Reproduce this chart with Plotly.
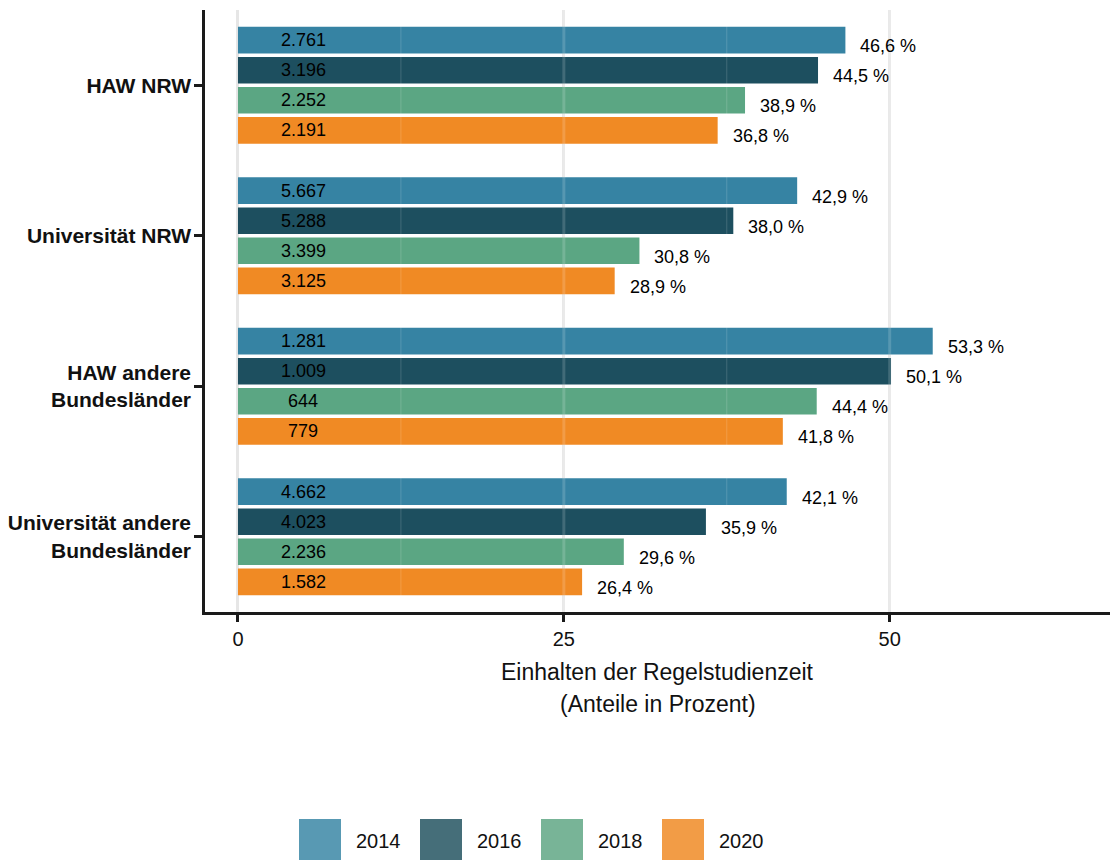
import plotly.graph_objects as go

# ---- data ----
categories = ["HAW NRW", "Universität NRW", "HAW andere<br>Bundesländer",
              "Universität andere<br>Bundesländer"]
years = ["2014", "2016", "2018", "2020"]
pct_2014 = [46.6, 42.9, 53.3, 42.1]
pct_2016 = [44.5, 38.0, 50.1, 35.9]
pct_2018 = [38.9, 30.8, 44.4, 29.6]
pct_2020 = [36.8, 28.9, 41.8, 26.4]
n_2014 = [2761, 5667, 1281, 4662]
n_2016 = [3196, 5288, 1009, 4023]
n_2018 = [2252, 3399, 644, 2236]
n_2020 = [2191, 3125, 779, 1582]
x_ticks = [0, 25, 50]

pcts = [pct_2014, pct_2016, pct_2018, pct_2020]
counts = [n_2014, n_2016, n_2018, n_2020]

# ---- styles ----
bar_colors = ["#3683A3", "#1D4F5F", "#5BA683", "#F08A24"]
legend_colors = ["#5899B3", "#456E79", "#78B497", "#F29C46"]
FONT = "Liberation Sans, Arial, Helvetica, sans-serif"
W, H = 1110, 860
ML, MR, MT, MB = 205, 0, 10, 248
PW, PH = W - ML - MR, H - MT - MB
BARGAP, BARGROUPGAP = 0.2, 0.115
XRANGE = [-2.53, 66.9]


def fmt_pct(v):
    return f"{v:.1f}".replace(".", ",") + " %"


def fmt_n(v):
    return f"{v:,}".replace(",", ".")


def px_x(px):
    return (px - ML) / PW


def px_y(py):
    return (H - MB - py) / PH


fig = go.Figure()
ypos = list(range(len(categories)))
for j, yr in enumerate(years):
    fig.add_trace(go.Bar(
        x=pcts[j], y=ypos, orientation="h", name=yr,
        marker=dict(color=bar_colors[j], line=dict(width=0)),
        showlegend=False, hoverinfo="skip",
    ))

# labels
slot = (1 - BARGAP) / len(years)
annotations = []
for j, yr in enumerate(years):
    for i in range(len(categories)):
        yc = i + (j - (len(years) - 1) / 2) * slot
        annotations.append(dict(
            x=5, y=yc, xref="x", yref="y", text=fmt_n(counts[j][i]),
            showarrow=False, xanchor="center", yanchor="middle",
            font=dict(size=18, color="#000000", family=FONT)))
        annotations.append(dict(
            x=pcts[j][i], y=yc, xref="x", yref="y", text=fmt_pct(pcts[j][i]),
            showarrow=False, xanchor="left", yanchor="middle",
            xshift=13, yshift=-6,
            font=dict(size=18, color="#000000", family=FONT)))

# axis title (two lines)
annotations.append(dict(x=0.5, y=px_y(672), xref="paper", yref="paper",
                        text="Einhalten der Regelstudienzeit", showarrow=False,
                        xanchor="center", yanchor="middle",
                        font=dict(size=23, color="#111111", family=FONT)))
annotations.append(dict(x=0.5, y=px_y(704), xref="paper", yref="paper",
                        text="(Anteile in Prozent)", showarrow=False,
                        xanchor="center", yanchor="middle",
                        font=dict(size=23, color="#111111", family=FONT)))

# manual legend
shapes = []
leg_x0 = [299, 420, 541, 662]
for j, yr in enumerate(years):
    shapes.append(dict(type="rect", xref="paper", yref="paper",
                       x0=px_x(leg_x0[j]), x1=px_x(leg_x0[j] + 42),
                       y0=px_y(860), y1=px_y(819),
                       fillcolor=legend_colors[j], line=dict(width=0)))
    annotations.append(dict(x=px_x(leg_x0[j] + 55), y=px_y(841), xref="paper",
                            yref="paper", text=yr, showarrow=False,
                            xanchor="left", yanchor="middle",
                            font=dict(size=20, color="#111111", family=FONT)))

# light grid traces visible through the bars
for gx in [12.5, 25, 37.5, 50]:
    shapes.append(dict(type="line", xref="x", yref="paper", x0=gx, x1=gx,
                       y0=0, y1=1, layer="above",
                       line=dict(color="rgba(255,255,255,0.16)",
                                 width=3 if gx in x_ticks else 1)))

fig.update_layout(
    width=W, height=H,
    margin=dict(l=ML, r=MR, t=MT, b=MB, pad=0),
    paper_bgcolor="white", plot_bgcolor="white",
    barmode="group", bargap=BARGAP, bargroupgap=BARGROUPGAP,
    showlegend=False,
    font=dict(family=FONT, color="#111111"),
    annotations=annotations, shapes=shapes,
)
fig.update_xaxes(
    range=XRANGE, tickvals=x_ticks, ticktext=[str(t) for t in x_ticks],
    showgrid=True, gridcolor="#e6e6e6", gridwidth=3, zeroline=False,
    showline=True, linecolor="#1a1a1a", linewidth=2.5,
    ticks="outside", ticklen=7, tickwidth=2.5, tickcolor="#1a1a1a",
    tickfont=dict(size=20, color="#111111", family=FONT),
)
fig.update_yaxes(
    range=[len(categories) - 0.5, -0.5], tickvals=ypos, ticktext=categories,
    showgrid=False, zeroline=False,
    showline=True, linecolor="#1a1a1a", linewidth=2.5,
    ticks="outside", ticklen=8, tickwidth=2.5, tickcolor="#1a1a1a",
    ticklabelstandoff=-1,
    tickfont=dict(size=21, color="#111111", family=FONT, weight="bold"),
)

fig.write_html("out.html",
               config={"displayModeBar": False},
               post_script="document.body.style.margin='0';document.body.style.overflow='hidden';")
